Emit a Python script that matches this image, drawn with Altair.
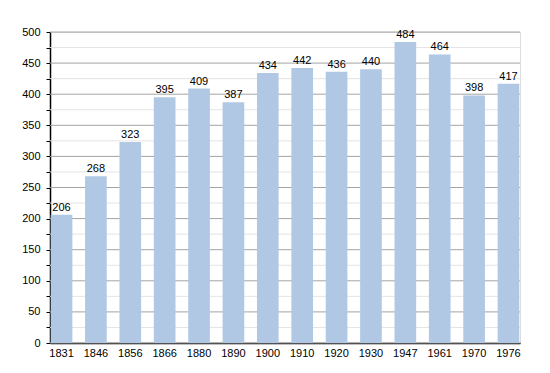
import altair as alt
import pandas as pd

years = ["1831", "1846", "1856", "1866", "1880", "1890", "1900", "1910", "1920", "1930", "1947", "1961", "1970", "1976"]
population = [206, 268, 323, 395, 409, 387, 434, 442, 436, 440, 484, 464, 398, 417]
grid_values = list(range(0, 525, 25))

df = pd.DataFrame({"year": years, "pop": population})
grid_df = pd.DataFrame({"v": grid_values})
grid_df["major"] = grid_df["v"] % 50 == 0

font = "Liberation Sans"

y_scale = alt.Scale(domain=[0, 500], nice=False, zero=True)
y_axis = alt.Axis(title=None, values=grid_values, grid=False,
                  labelExpr="datum.value % 50 === 0 ? datum.label : ''",
                  tickSize=4, tickColor="#000000", domainColor="#000000",
                  domainWidth=1.5, labelFont=font, labelFontSize=11,
                  labelColor="#000000", labelPadding=6)

grid = alt.Chart(grid_df).mark_rule(strokeWidth=1).encode(
    y=alt.Y("v:Q", scale=y_scale, axis=y_axis),
    color=alt.condition("datum.major", alt.value("#a4a4a4"), alt.value("#e4e4e4")),
)

bars = alt.Chart(df).mark_bar(color="#b0c8e4").encode(
    x=alt.X("year:N", sort=years,
            scale=alt.Scale(paddingInner=0.37, paddingOuter=0.02),
            axis=alt.Axis(title=None, labelAngle=0, ticks=False, domain=True,
                          domainColor="#000000", domainWidth=1.5,
                          labelFont=font, labelFontSize=11, labelColor="#000000",
                          labelPadding=4)),
    y=alt.Y("pop:Q", scale=y_scale, axis=y_axis),
)

text = alt.Chart(df).mark_text(baseline="bottom", dy=-2, font=font, fontSize=11,
                               color="#000000").encode(
    x=alt.X("year:N", sort=years),
    y=alt.Y("pop:Q", scale=y_scale, axis=y_axis),
    text="pop:Q",
)

chart = alt.layer(grid, bars, text).properties(
    width=470, height=311,
    autosize=alt.AutoSizeParams(type="none"),
    padding={"left": 42, "top": 24, "right": 20, "bottom": 30},
).configure_view(stroke=None).configure(background="#ffffff")

chart.save("out.html", embed_options={"renderer": "svg", "actions": False})
